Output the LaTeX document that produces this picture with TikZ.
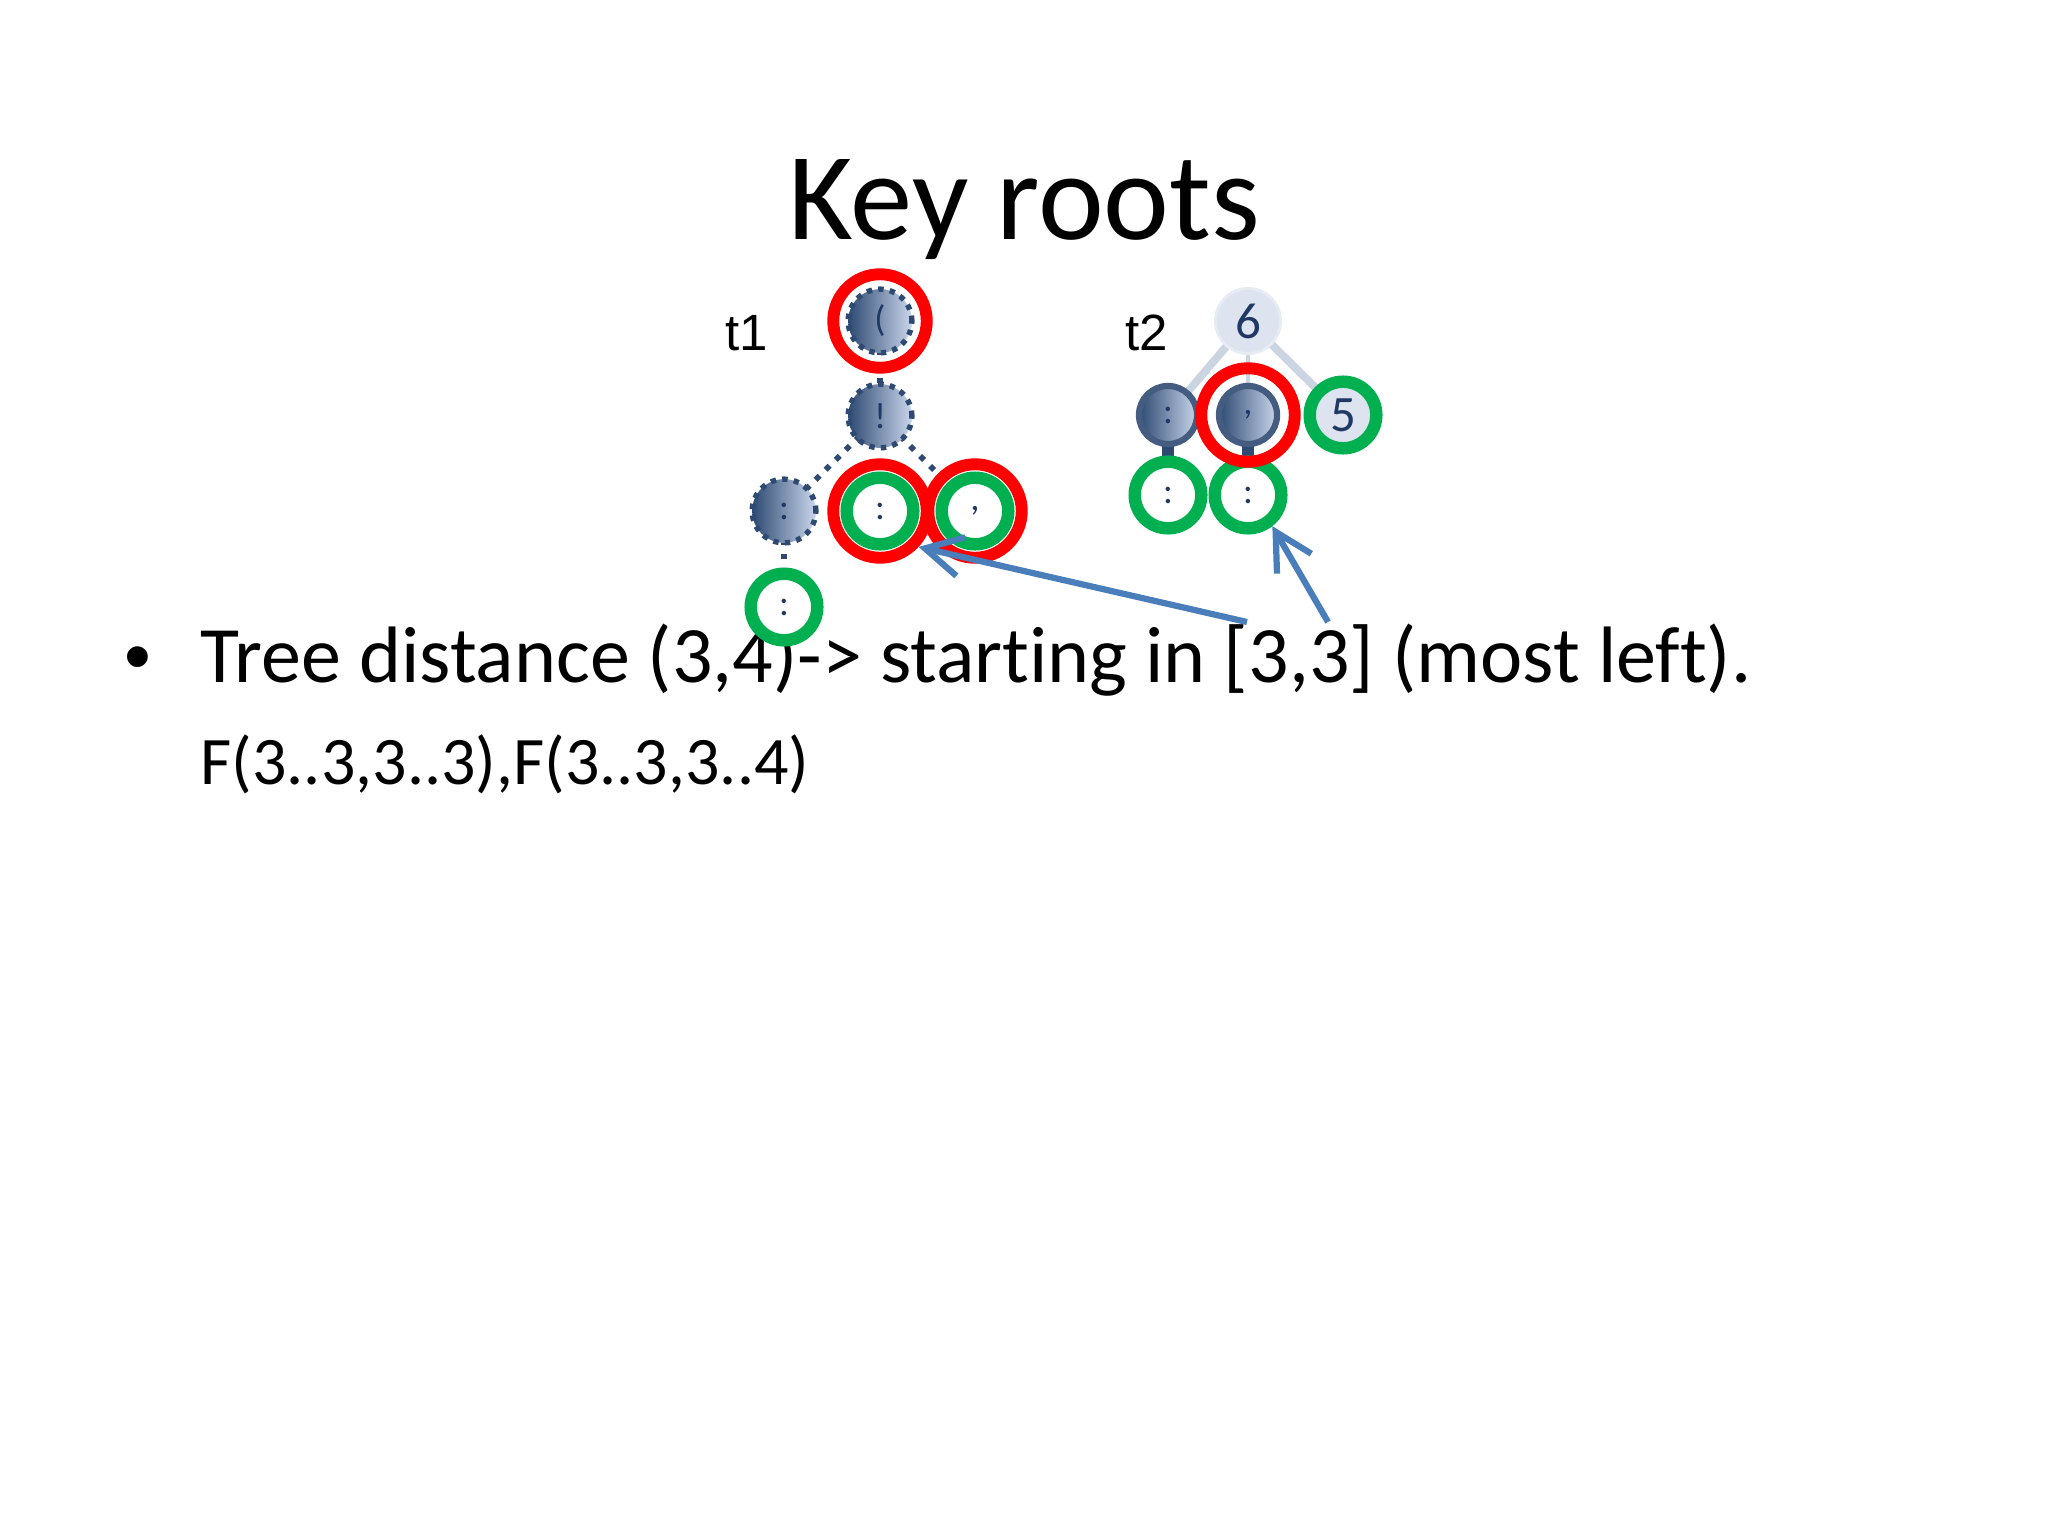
\documentclass[tikz,border=0pt]{standalone}
\usepackage{fontspec}
\setmainfont{Carlito}[Ligatures={TeX,NoCommon}]
\newfontfamily\arialfont{Liberation Sans}
\usetikzlibrary{arrows.meta}
\definecolor{keyred}{HTML}{FF0000}
\definecolor{leafgreen}{HTML}{00B050}
\definecolor{nodenavy}{HTML}{2E4A72}
\definecolor{shadelight}{HTML}{CAD6EB}
\definecolor{paleblue}{HTML}{DDE4EF}
\definecolor{pointerblue}{HTML}{4A7EBB}
\definecolor{digitnavy}{HTML}{1F3864}

\begin{document}
\begin{tikzpicture}[
    x=0.0124023cm, y=-0.0124023cm,
    plain/.style={inner sep=0pt, font=#1},
    dotnode/.style={circle, inner sep=0pt, minimum size=22.5pt,
                    left color=nodenavy, right color=shadelight,
                    draw=nodenavy, line width=1.9pt, dash pattern=on 1.9pt off 2.2pt,
                    text=digitnavy, font=\fontsize{13}{13}\selectfont},
    solidnode/.style={circle, inner sep=0pt, minimum size=20.5pt,
                      left color=nodenavy, right color=shadelight,
                      draw=nodenavy!90!white, line width=2.2pt,
                      text=digitnavy, font=\fontsize{13}{13}\selectfont},
    palenode/.style={circle, inner sep=0pt, minimum size=23pt, fill=paleblue,
                     draw=paleblue!70!white, line width=1pt,
                     text=digitnavy, font=\fontsize{18}{18}\selectfont},
    leafring/.style={circle, inner sep=0pt, minimum size=23.5pt, draw=leafgreen,
                     fill=#1, line width=4.4pt,
                     text=digitnavy, font=\fontsize{13}{13}\selectfont},
    keyring/.style={circle, inner sep=0pt, minimum size=33pt, draw=keyred, line width=4.2pt},
    dotedge/.style={draw=nodenavy, line width=2pt, dash pattern=on 2pt off 3pt},
    paleedge/.style={draw=paleblue!90!nodenavy, line width=2.8pt},
    stubedge/.style={draw=nodenavy, line width=4pt},
    pointer/.style={-{Straight Barb[length=13pt,width=14pt]}, line width=2.2pt, draw=pointerblue},
]
\useasboundingbox (0,0) rectangle (2048,1536);

% Text
\node[plain=\fontsize{44}{53}\selectfont, anchor=base] (title) at (1024,239) {Key roots};
\node[plain=\arialfont\fontsize{27}{30}\selectfont, anchor=base west] (bullet) at (124,682) {\textbullet};
\node[plain=\fontsize{28.25}{34}\selectfont, anchor=base west] (line1) at (200,682)
    {Tree distance (3,4)-> starting in [3,3] (most left).};
\node[plain=\fontsize{24}{29}\selectfont, anchor=base west] (line2) at (200,784)
    {F(3..3,3..3),F(3..3,3..4)};

% Tree t1
\node[plain=\arialfont\fontsize{18}{22}\selectfont, anchor=base west] (t1) at (725,350) {t1};
\draw[dotedge] (880,321) -- (880,416);
\draw[dotedge] (880,416) -- (784,511);
\draw[dotedge] (880,416) -- (975,511);
\draw[dotedge] (784,511) -- (784,607);
\node[dotnode] (a1) at (880,321) {(};
\node[dotnode] (a2) at (880,416) {!};
\node[dotnode] (a3) at (784,511) {:};
\node[leafring=white] (a4) at (880,511) {:};
\node[leafring=white] (a5) at (975,511) {,};
\node[leafring=white] (a6) at (784,607) {:};
\node[keyring] (k1) at (a1) {};
\node[keyring] (k4) at (a4) {};
\node[keyring] (k5) at (a5) {};

% Tree t2
\node[plain=\arialfont\fontsize{18}{22}\selectfont, anchor=base west] (t2) at (1125,350) {t2};
\draw[paleedge] (1248,321) -- (1168,415);
\draw[paleedge, line width=1.2pt] (1248,321) -- (1248,415);
\draw[paleedge] (1248,321) -- (1343,415);
\draw[stubedge] (1168,415) -- (1168,495);
\draw[stubedge] (1248,415) -- (1248,495);
\node[palenode] (b6) at (1248,321) {6};
\node[solidnode] (b1) at (1168,415) {:};
\node[solidnode] (b3) at (1248,415) {,};
\node[leafring=paleblue, font=\fontsize{18}{18}\selectfont] (b5) at (1343,415) {5};
\node[leafring=white] (b2) at (1168,495) {:};
\node[leafring=white] (b4) at (1248,495) {:};
\node[keyring] (k3) at (b3) {};

% Arrows from [3,3]
\coordinate (from1) at (1247,622);
\coordinate (from2) at (1328,622);
\draw[pointer] (from1) -- (k4.-43);
\draw[pointer] (from2) -- (b4.-52);

\end{tikzpicture}
\end{document}
